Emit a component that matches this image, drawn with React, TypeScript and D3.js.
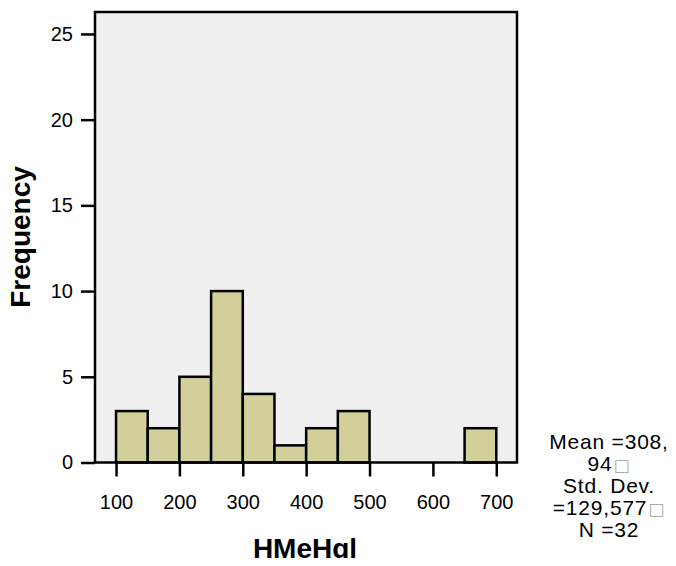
import * as d3 from "d3";
import React, { useRef, useEffect } from "react";

// histogram bins (lower edge) and counts
const binStarts = [100, 150, 200, 250, 300, 350, 400, 450, 650];
const binWidth = 50;
const counts = [3, 2, 5, 10, 4, 1, 2, 3, 2];
const xTicks = [100, 200, 300, 400, 500, 600, 700];
const yTicks = [0, 5, 10, 15, 20, 25];
const statsLines = ["Mean =308,", "94\u25A1", "Std. Dev.", "=129,577\u25A1", "N =32"];

export default function App() {
  const ref = useRef<SVGSVGElement>(null);

  useEffect(() => {
    const width = 676;
    const height = 566;
    const left = 95, right = 517, top = 12, bottom = 462.5;
    const font = "'Liberation Sans', Arial, sans-serif";

    const x = d3.scaleLinear().domain([66.8, 732.7]).range([left, right]);
    const y = d3.scaleLinear().domain([0, 26.28]).range([bottom, top]);

    const svg = d3.select(ref.current);
    svg.selectAll("*").remove();
    svg.attr("width", width).attr("height", height);

    // plot background
    svg.append("rect")
      .attr("x", left).attr("y", top)
      .attr("width", right - left).attr("height", bottom - top)
      .attr("fill", "#f0f0f0");

    // bars
    svg.append("g")
      .selectAll("rect")
      .data(binStarts)
      .enter()
      .append("rect")
      .attr("x", (d) => x(d))
      .attr("y", (d, i) => y(counts[i]))
      .attr("width", (d) => x(d + binWidth) - x(d))
      .attr("height", (d, i) => y(0) - y(counts[i]))
      .attr("fill", "#d3cf9a")
      .attr("stroke", "#000")
      .attr("stroke-width", 2.5);

    // frame
    svg.append("rect")
      .attr("x", left).attr("y", top)
      .attr("width", right - left).attr("height", bottom - top)
      .attr("fill", "none")
      .attr("stroke", "#000")
      .attr("stroke-width", 2.5);

    // y axis
    const yAxis = d3.axisLeft(y).tickValues(yTicks).tickSize(14).tickPadding(8);
    const gy = svg.append("g").attr("transform", `translate(${left},0)`).call(yAxis);
    gy.select(".domain").remove();
    gy.selectAll("line").attr("stroke", "#000").attr("stroke-width", 2.5);
    gy.selectAll("text").attr("font-family", font).attr("font-size", 20).attr("fill", "#000");

    // x axis
    const xAxis = d3.axisBottom(x).tickValues(xTicks).tickSize(14).tickPadding(18);
    const gx = svg.append("g").attr("transform", `translate(0,${bottom})`).call(xAxis);
    gx.select(".domain").remove();
    gx.selectAll("line").attr("stroke", "#000").attr("stroke-width", 2.5);
    gx.selectAll("text").attr("font-family", font).attr("font-size", 20).attr("fill", "#000");

    // axis titles
    svg.append("text")
      .attr("transform", `translate(30,237) rotate(-90)`)
      .attr("text-anchor", "middle")
      .attr("font-family", font).attr("font-size", 28).attr("font-weight", "bold")
      .text("Frequency");

    svg.append("text")
      .attr("x", 305).attr("y", 558)
      .attr("text-anchor", "middle")
      .attr("font-family", font).attr("font-size", 28).attr("font-weight", "bold")
      .text("HMeHgl");

    // stats
    const st = svg.append("text")
      .attr("font-family", font).attr("font-size", 21).attr("letter-spacing", 0.8)
      .attr("text-anchor", "middle");
    statsLines.forEach((line, i) => {
      const t = st.append("tspan").attr("x", 609).attr("y", 449 + i * 22.1);
      const box = line.endsWith("\u25A1");
      t.append("tspan").text(box ? line.slice(0, -1) : line);
      if (box) t.append("tspan").attr("dx", 1).attr("fill", "#aaa").attr("font-family", "'DejaVu Sans'").attr("font-size", 17).text("\u25A1");
    });
  }, []);

  return <svg ref={ref} style={{ display: "block", margin: -8 }} />;
}
